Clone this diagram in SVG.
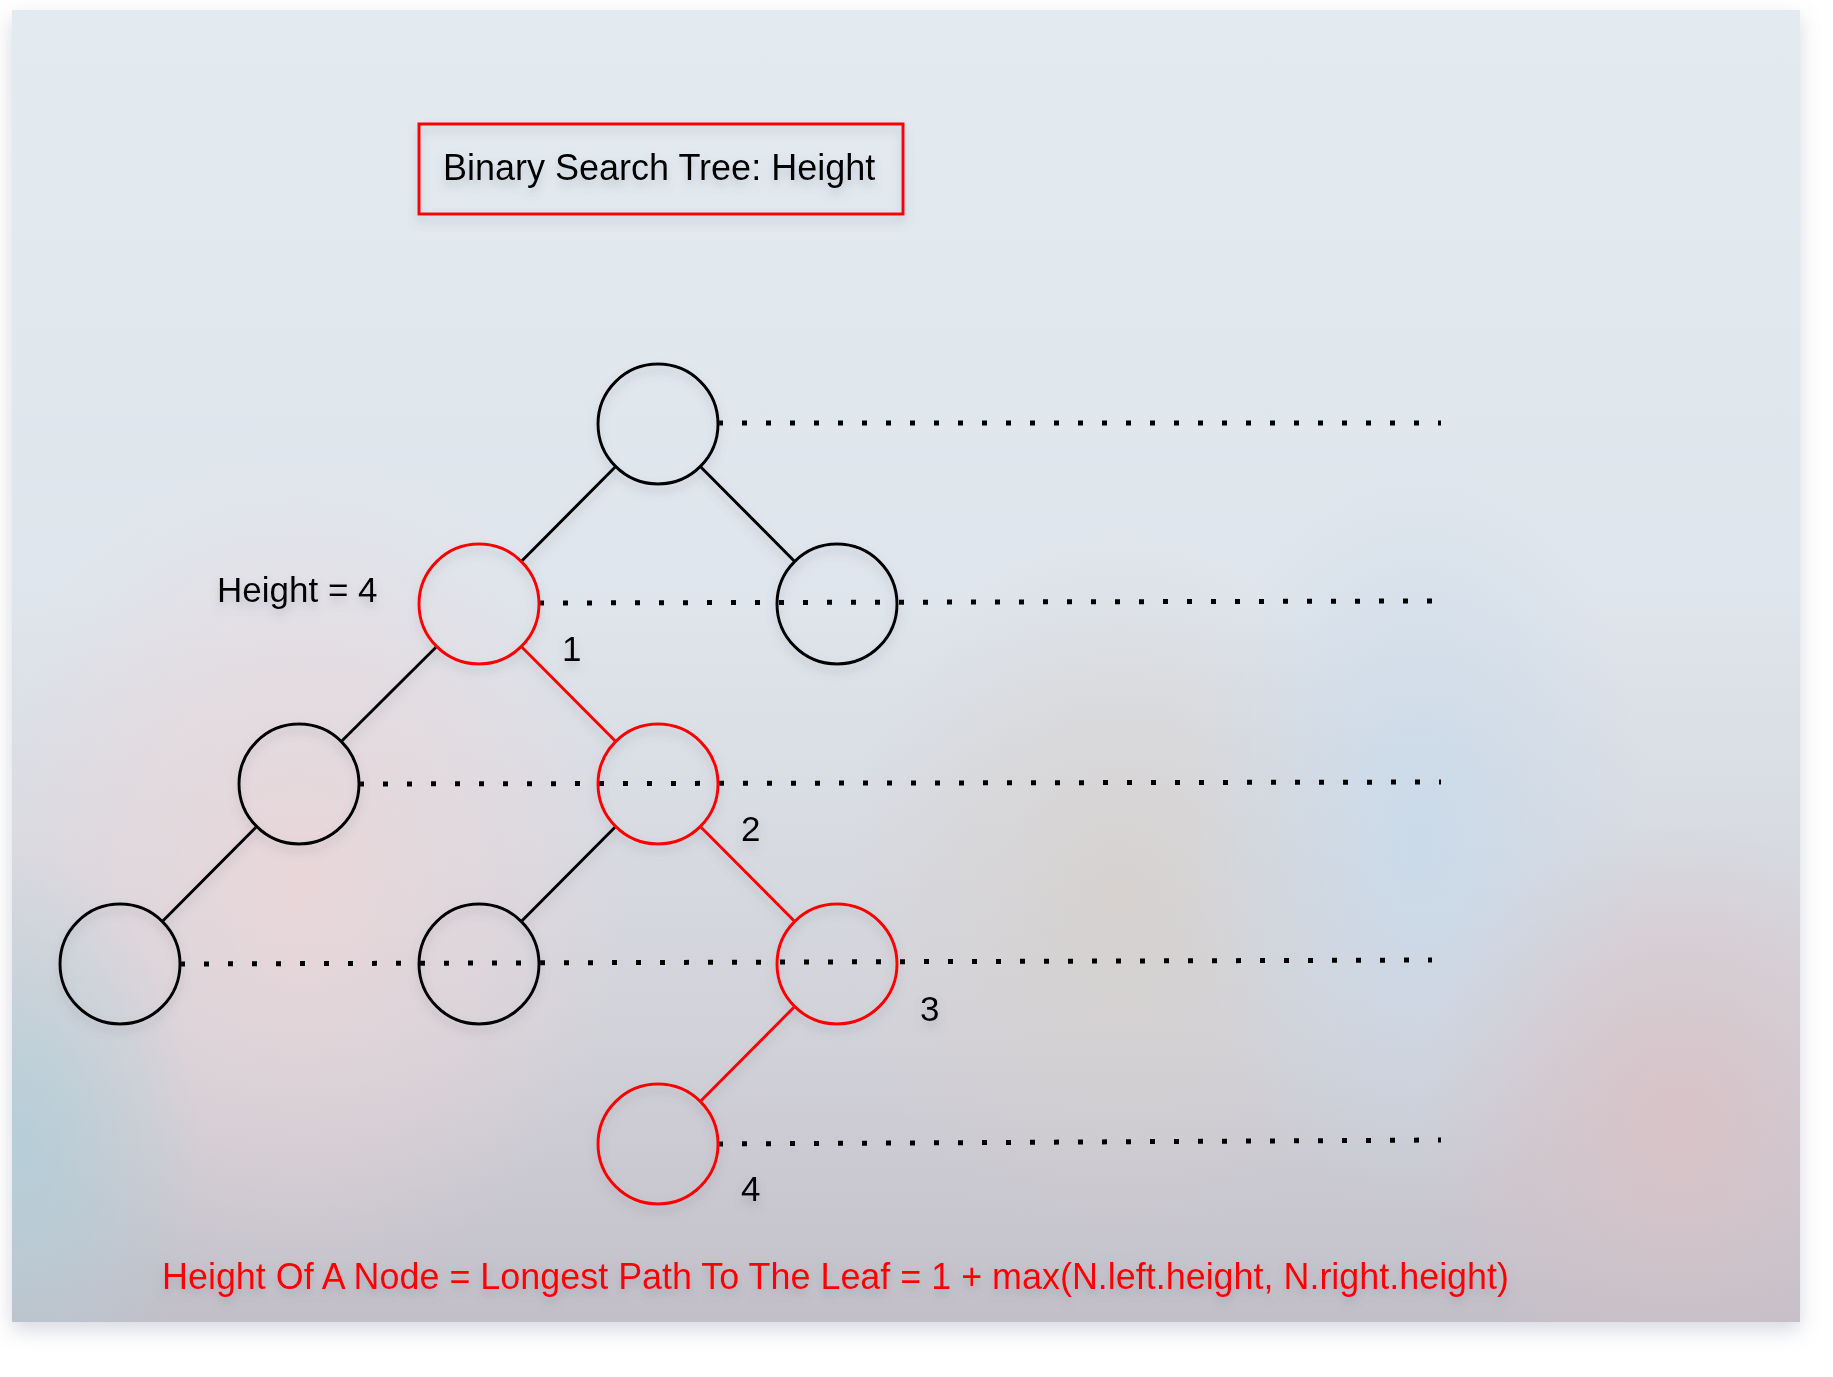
<svg xmlns="http://www.w3.org/2000/svg" width="1833" height="1377" viewBox="0 0 1833 1377">
  <defs>
    <linearGradient id="bg" x1="0" y1="0" x2="0" y2="1">
      <stop offset="0" stop-color="#e3eaf0"/>
      <stop offset="0.45" stop-color="#dfe5ec"/>
      <stop offset="0.78" stop-color="#d2d2d9"/>
      <stop offset="1" stop-color="#c2bfc8"/>
    </linearGradient>
    <radialGradient id="pink1" cx="0.5" cy="0.5" r="0.5">
      <stop offset="0" stop-color="#ecd6d8" stop-opacity="0.85"/>
      <stop offset="1" stop-color="#ecd6d8" stop-opacity="0"/>
    </radialGradient>
    <radialGradient id="pink2" cx="0.5" cy="0.5" r="0.5">
      <stop offset="0" stop-color="#d9c2c6" stop-opacity="0.9"/>
      <stop offset="1" stop-color="#d9c2c6" stop-opacity="0"/>
    </radialGradient>
    <radialGradient id="blue1" cx="0.5" cy="0.5" r="0.5">
      <stop offset="0" stop-color="#c9daea" stop-opacity="0.9"/>
      <stop offset="1" stop-color="#c9daea" stop-opacity="0"/>
    </radialGradient>
    <radialGradient id="teal1" cx="0.5" cy="0.5" r="0.5">
      <stop offset="0" stop-color="#b0cfd9" stop-opacity="0.8"/>
      <stop offset="1" stop-color="#b0cfd9" stop-opacity="0"/>
    </radialGradient>
    <radialGradient id="warm1" cx="0.5" cy="0.5" r="0.5">
      <stop offset="0" stop-color="#d6d0cc" stop-opacity="0.8"/>
      <stop offset="1" stop-color="#d6d0cc" stop-opacity="0"/>
    </radialGradient>
    <clipPath id="panelClip">
      <rect x="12" y="10" width="1788" height="1312"/>
    </clipPath>
    <filter id="panelShadow" x="-5%" y="-5%" width="110%" height="112%">
      <feDropShadow dx="0" dy="8" stdDeviation="10" flood-color="#8a90a8" flood-opacity="0.35"/>
    </filter>
    <filter id="sh" x="-20%" y="-20%" width="140%" height="160%">
      <feDropShadow dx="0" dy="6" stdDeviation="5" flood-color="#6a7080" flood-opacity="0.3"/>
    </filter>
  </defs>
  <style>
    .node { fill: none; stroke: #000; stroke-width: 3; }
    .node.hot { stroke: #ff0000; }
    .edge { stroke: #000; stroke-width: 3; fill: none; }
    .edge.hot { stroke: #ff0000; }
    .dots { stroke: #000; stroke-width: 5; stroke-dasharray: 5 19; fill: none; }
    .lbl { font-family: "Liberation Sans", Arial, Helvetica, sans-serif; fill: #000; }
  </style>

  <rect x="0" y="0" width="1833" height="1377" fill="#ffffff"/>
  <rect x="12" y="10" width="1788" height="1312" fill="url(#bg)" filter="url(#panelShadow)"/>
  <g clip-path="url(#panelClip)">
    <ellipse cx="300" cy="880" rx="330" ry="420" fill="url(#pink1)"/>
    <ellipse cx="20" cy="1150" rx="180" ry="300" fill="url(#teal1)"/>
    <ellipse cx="1120" cy="900" rx="280" ry="360" fill="url(#warm1)"/>
    <ellipse cx="1420" cy="840" rx="230" ry="380" fill="url(#blue1)"/>
    <ellipse cx="1680" cy="1120" rx="260" ry="300" fill="url(#pink2)"/>
  </g>

  <g id="title" filter="url(#sh)">
    <rect x="419" y="124" width="484" height="90" fill="none" stroke="#ff0000" stroke-width="3"/>
    <text class="lbl" x="443" y="180" font-size="36">Binary Search Tree: Height</text>
  </g>

  <g id="guides">
    <line class="dots" x1="718" y1="423" x2="1441" y2="423"/>
    <line class="dots" x1="539" y1="603" x2="1432" y2="601"/>
    <line class="dots" x1="359" y1="784" x2="1441" y2="782"/>
    <line class="dots" x1="180" y1="964" x2="1432" y2="960"/>
    <line class="dots" x1="718" y1="1144" x2="1441" y2="1140"/>
  </g>

  <g id="connectors" filter="url(#sh)">
    <line class="edge" x1="615.7" y1="466.5" x2="521.3" y2="561.5"/>
    <line class="edge" x1="700.3" y1="466.5" x2="794.7" y2="561.5"/>
    <line class="edge" x1="436.7" y1="646.5" x2="341.3" y2="741.5"/>
    <line class="edge hot" x1="521.3" y1="646.5" x2="615.7" y2="741.5"/>
    <line class="edge" x1="256.7" y1="826.5" x2="162.3" y2="921.5"/>
    <line class="edge" x1="615.7" y1="826.5" x2="521.3" y2="921.5"/>
    <line class="edge hot" x1="700.3" y1="826.5" x2="794.7" y2="921.5"/>
    <line class="edge hot" x1="794.7" y1="1006.5" x2="700.3" y2="1101.5"/>
  </g>

  <g id="n-root" filter="url(#sh)"><circle class="node" cx="658" cy="424" r="60"/></g>
  <g id="n-l" filter="url(#sh)"><circle class="node hot" cx="479" cy="604" r="60"/></g>
  <g id="n-r" filter="url(#sh)"><circle class="node" cx="837" cy="604" r="60"/></g>
  <g id="n-ll" filter="url(#sh)"><circle class="node" cx="299" cy="784" r="60"/></g>
  <g id="n-lr" filter="url(#sh)"><circle class="node hot" cx="658" cy="784" r="60"/></g>
  <g id="n-lll" filter="url(#sh)"><circle class="node" cx="120" cy="964" r="60"/></g>
  <g id="n-lrl" filter="url(#sh)"><circle class="node" cx="479" cy="964" r="60"/></g>
  <g id="n-lrr" filter="url(#sh)"><circle class="node hot" cx="837" cy="964" r="60"/></g>
  <g id="n-lrrl" filter="url(#sh)"><circle class="node hot" cx="658" cy="1144" r="60"/></g>

  <g id="labels" filter="url(#sh)">
    <text class="lbl" x="217" y="602" font-size="35">Height = 4</text>
    <text class="lbl" x="562" y="661" font-size="35">1</text>
    <text class="lbl" x="741" y="841" font-size="35">2</text>
    <text class="lbl" x="920" y="1021" font-size="35">3</text>
    <text class="lbl" x="741" y="1201" font-size="35">4</text>
    <text class="lbl" x="162" y="1289" font-size="36" textLength="1347" lengthAdjust="spacingAndGlyphs" style="fill:#ff0000">Height Of A Node = Longest Path To The Leaf = 1 + max(N.left.height, N.right.height)</text>
  </g>
</svg>
